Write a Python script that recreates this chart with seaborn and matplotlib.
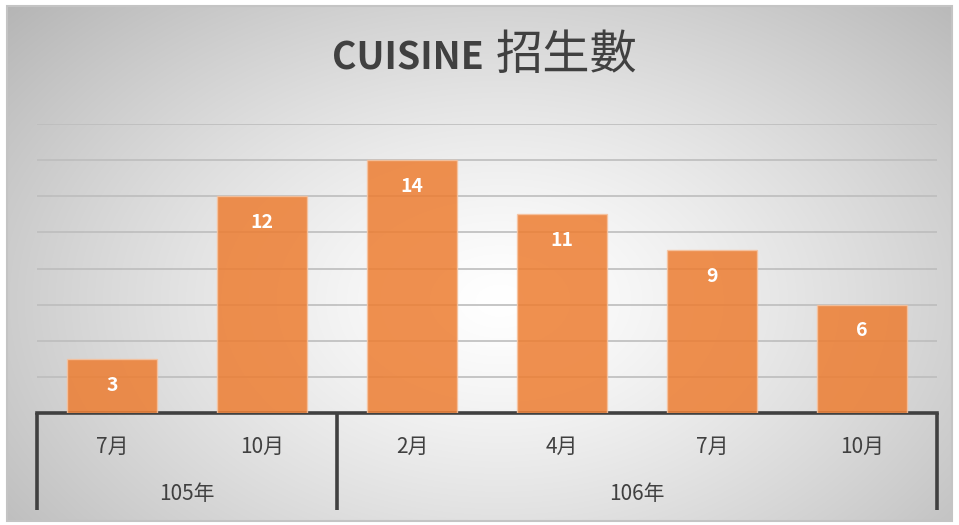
import numpy as np
import pandas as pd
import matplotlib
matplotlib.use("Agg")
import matplotlib.pyplot as plt
import matplotlib.transforms as mtransforms
import seaborn as sns

# chart data
years = ['105年', '105年', '106年', '106年', '106年', '106年']
months = ['7月', '10月', '2月', '4月', '7月', '10月']
students = [3, 12, 14, 11, 9, 6]
year_groups = ['105年', '106年']
year_spans = [(0, 1), (2, 5)]

df = pd.DataFrame({'key': [f'{y}-{m}' for y, m in zip(years, months)],
                   'count': students})

sns.set_theme(style='white')
plt.rcParams['font.family'] = ['Noto Sans CJK TC', 'DejaVu Sans']

W, H = 959, 525
fig = plt.figure(figsize=(W / 100, H / 100), dpi=100)

# radial gradient background with a thin frame
bg = fig.add_axes([0, 0, 1, 1], zorder=-5)
bg.set_xlim(0, W)
bg.set_ylim(H, 0)
bg.axis('off')
yy, xx = np.mgrid[0:H, 0:W]
d = np.sqrt(((xx - 500) / 600) ** 2 + ((yy - 300) / 400) ** 2)
shade = np.clip(1 - 0.25 * d ** 1.3, 0, 1)
img = np.dstack([shade] * 3)
bg.imshow(img, extent=(7, 952, 521, 6), aspect='auto', interpolation='bilinear')
bg.add_patch(plt.Rectangle((7, 6), 945, 515, fill=False, ec='#c4c4c4', lw=1.5))

ax = fig.add_axes([37 / W, 1 - 413 / H, 900 / W, 289 / H])
ax.patch.set_alpha(0)
sns.barplot(data=df, x='key', y='count', color='#ED7D31', saturation=1,
            alpha=0.85, width=0.6, edgecolor='#F6C3A0', linewidth=1,
            ax=ax, zorder=3)

ax.set_ylim(0, 16)
ax.set_xlim(-0.5, 5.5)
ax.set_yticks(range(0, 17, 2))
ax.yaxis.grid(True, color='#BDBDBD', lw=1.2)
ax.set_axisbelow(True)
ax.tick_params(left=False, bottom=False, labelleft=False, labelbottom=False)
ax.set_xlabel('')
ax.set_ylabel('')
for s in ['top', 'left', 'right']:
    ax.spines[s].set_visible(False)
ax.spines['bottom'].set_color('#404040')
ax.spines['bottom'].set_linewidth(2.6)

# value labels inside bars
for i, v in enumerate(students):
    ax.text(i, v - 1.45, str(v), ha='center', va='center', color='white',
            fontsize=14, fontweight='bold', zorder=5)

# two-level category axis
tr = mtransforms.blended_transform_factory(ax.transData, ax.transAxes)
for x in [-0.5, 1.5, 5.5]:
    ax.plot([x, x], [0, -0.336], transform=tr, color='#404040', lw=2.6,
            clip_on=False, solid_capstyle='butt')
for i, m in enumerate(months):
    ax.text(i, -0.118, m, transform=tr, ha='center', va='center',
            fontsize=15, color='#404040')
for g, (a, b) in zip(year_groups, year_spans):
    ax.text((a + b) / 2, -0.28, g, transform=tr, ha='center', va='center',
            fontsize=15, color='#404040')

# title
fig.text(484 / W, 1 - 58 / H, 'CUISINE', ha='right', va='center',
         fontsize=27, fontweight='bold', color='#404040')
fig.text(496 / W, 1 - 56 / H, '招生數', ha='left', va='center',
         fontsize=34, color='#404040')

fig.savefig('out.png', dpi=100, facecolor='white')
